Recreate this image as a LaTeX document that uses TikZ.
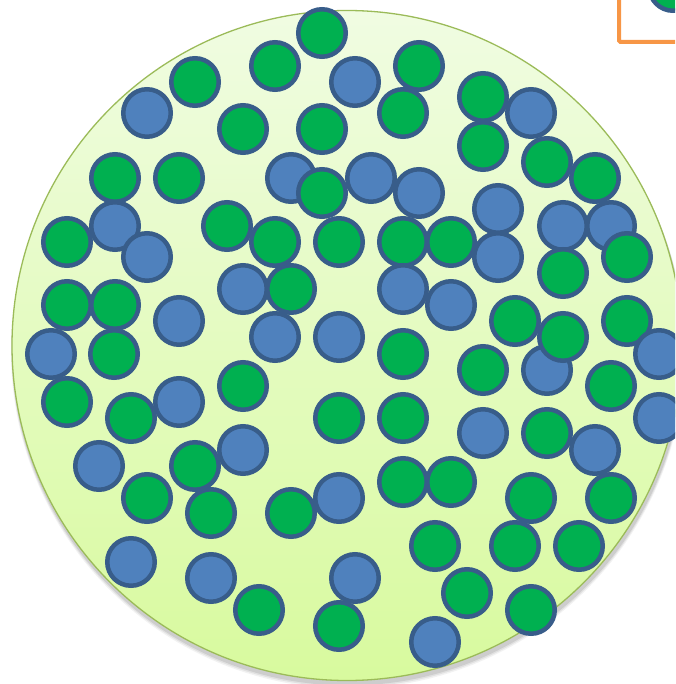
\documentclass[tikz,border=0pt]{standalone}
\usetikzlibrary{calc}
\definecolor{colg}{HTML}{00B050}
\definecolor{colb}{HTML}{4F81BD}
\definecolor{ballline}{HTML}{385D8A}
\definecolor{bigline}{HTML}{9BBB59}
\definecolor{bigtop}{RGB}{240,252,226}
\definecolor{bigbot}{RGB}{216,250,158}
\definecolor{orangeline}{HTML}{F79646}
\tikzset{
  ball/.style={circle, draw=ballline, line width=4.5pt, minimum size=47.5pt, inner sep=0pt},
  bigdisc/.style={circle, draw=bigline, line width=1.3pt, minimum size=670pt, inner sep=0pt,
    top color=bigtop, bottom color=bigbot},
  frame/.style={draw=orangeline, line width=4pt, rounded corners=1.5pt}
}
\begin{document}
\begin{tikzpicture}[x=1pt,y=-1pt]
\useasboundingbox (0,0) rectangle (675,684);
\clip (0,0) rectangle (675,684);
% shadow of the large disc
\foreach \o/\a in {4/0.05,3/0.07,2/0.09}
  \fill[black, opacity=\a] (348,347.5+\o) circle[radius=335+\o/2];
\node[bigdisc] (big) at (347,345.5) {};
% orange frame at top right
\coordinate (fa) at (619,-10);
\coordinate (fb) at (700,42);
\draw[frame] (fa) rectangle (fb);
\node[ball, fill=colg] (corner) at (673,-13) {};
% small discs
\foreach \c/\x/\y [count=\i] in {
 colg/322/33, colg/275/66, colg/419/66, colg/195/82, colb/355/82, colg/483/97,
 colb/147/113, colg/403/113, colb/531/113, colg/243/129, colg/322/129, colg/483/146,
 colg/547/162, colg/115/178, colg/179/178, colb/291/178, colb/371/178, colg/595/178,
 colg/322/193, colb/419/193, colb/498/209, colb/115/226, colg/227/226, colb/563/226,
 colb/611/226, colg/67/242, colg/275/242, colg/339/242, colg/403/242, colg/451/242,
 colb/147/257, colb/498/257, colg/627/257, colg/563/273, colb/243/289, colg/291/289,
 colb/403/289, colg/67/305, colg/115/305, colb/451/305, colb/179/321, colg/515/321,
 colg/627/321, colb/275/337, colb/339/337, colb/51/354, colg/114/354, colg/403/354,
 colb/659/354, colb/547/370, colg/563/337, colg/483/370, colg/611/386, colg/243/386,
 colg/67/402, colg/131/418, colb/179/402, colg/339/418, colg/403/418, colb/659/418,
 colb/483/433, colg/547/433, colb/595/450, colg/195/466, colb/243/450, colb/99/466,
 colg/403/482, colg/451/482, colg/147/498, colb/339/498, colg/531/498, colg/611/498,
 colg/211/513, colg/291/513, colg/435/546, colg/515/546, colg/579/546, colb/131/562,
 colb/211/578, colb/355/578, colg/467/593, colg/259/610, colg/531/610, colg/339/626,
 colb/435/642}
  \node[ball, fill=\c] (d\i) at (\x,\y) {};
\end{tikzpicture}
\end{document}
